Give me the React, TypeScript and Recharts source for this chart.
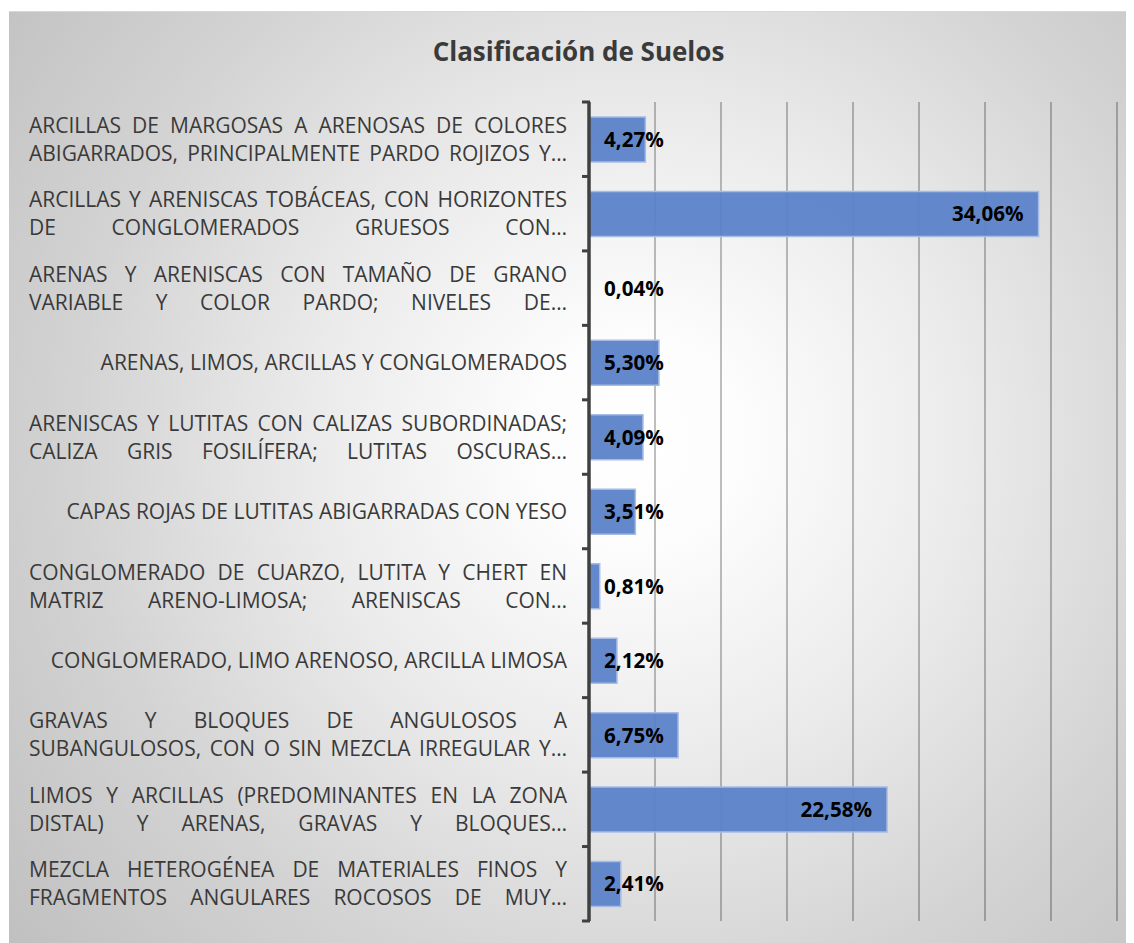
import React from 'react';
import { BarChart, Bar, XAxis, YAxis, CartesianGrid, LabelList } from 'recharts';

const title = 'Clasificación de Suelos';

const categoryLines: string[][] = [
  ['ARCILLAS DE MARGOSAS A ARENOSAS DE COLORES', 'ABIGARRADOS, PRINCIPALMENTE PARDO ROJIZOS Y…'],
  ['ARCILLAS Y ARENISCAS TOBÁCEAS, CON HORIZONTES', 'DE CONGLOMERADOS GRUESOS CON…'],
  ['ARENAS Y ARENISCAS CON TAMAÑO DE GRANO', 'VARIABLE Y COLOR PARDO; NIVELES DE…'],
  ['ARENAS, LIMOS, ARCILLAS Y CONGLOMERADOS'],
  ['ARENISCAS Y LUTITAS CON CALIZAS SUBORDINADAS;', 'CALIZA GRIS FOSILÍFERA; LUTITAS OSCURAS…'],
  ['CAPAS ROJAS DE LUTITAS ABIGARRADAS CON YESO'],
  ['CONGLOMERADO DE CUARZO, LUTITA Y CHERT EN', 'MATRIZ ARENO-LIMOSA; ARENISCAS CON…'],
  ['CONGLOMERADO, LIMO ARENOSO, ARCILLA LIMOSA'],
  ['GRAVAS Y BLOQUES DE ANGULOSOS A', 'SUBANGULOSOS, CON O SIN MEZCLA IRREGULAR Y…'],
  ['LIMOS Y ARCILLAS (PREDOMINANTES EN LA ZONA', 'DISTAL) Y ARENAS, GRAVAS Y BLOQUES…'],
  ['MEZCLA HETEROGÉNEA DE MATERIALES FINOS Y', 'FRAGMENTOS ANGULARES ROCOSOS DE MUY…'],
];

const categories: string[] = categoryLines.map((l) => l.join(' '));
const values: number[] = [4.27, 34.06, 0.04, 5.3, 4.09, 3.51, 0.81, 2.12, 6.75, 22.58, 2.41];
const xTicks: number[] = [0, 5, 10, 15, 20, 25, 30, 35, 40];

const data = categories.map((name, i) => ({ name, value: values[i] }));

const FONT = '"Open Sans", sans-serif';
const CAT_SIZE = 21;
const LABEL_SIZE = 20.6;
const LINE_GAP = 28;
const TEXT_COLOR = '#3a3a3a';
const AXIS_COLOR = '#404040';

let ctx: CanvasRenderingContext2D | null = null;
function measure(text: string, font: string): number {
  if (!ctx) {
    const c = document.createElement('canvas');
    ctx = c.getContext('2d');
  }
  if (!ctx) return text.length * 10;
  ctx.font = font;
  return ctx.measureText(text).width;
}

const fmt = (v: number) => v.toFixed(2).replace('.', ',') + '%';

const EmptyTick = () => <g />;

const CategoryTick = (props: any) => {
  const { x, y, payload, index } = props;
  const idx = categories.indexOf(payload?.value);
  const lines = categoryLines[idx >= 0 ? idx : index] || [];
  const half = payload?.offset ?? 0;
  const right = x - 22;
  const left = x - 560;
  const font = `${CAT_SIZE}px ${FONT}`;
  const n = lines.length;
  const isLast = index === categories.length - 1 || idx === categories.length - 1;
  return (
    <g>
      <line x1={x - 7} x2={x + 1} y1={y - half} y2={y - half} stroke={AXIS_COLOR} strokeWidth={3} />
      {isLast && (
        <line x1={x - 7} x2={x + 1} y1={y + half} y2={y + half} stroke={AXIS_COLOR} strokeWidth={3} />
      )}
      {lines.map((line, li) => {
        const cy = y + (li - (n - 1) / 2) * LINE_GAP;
        const base = cy + CAT_SIZE * 0.36;
        if (n === 1) {
          return (
            <text key={li} x={right} y={base} textAnchor="end" fontFamily={FONT} fontSize={CAT_SIZE} fill={TEXT_COLOR}>
              {line}
            </text>
          );
        }
        const words = line.split(' ');
        const widths = words.map((w) => measure(w, font));
        const total = widths.reduce((a, b) => a + b, 0);
        const gap = words.length > 1 ? (right - left - total) / (words.length - 1) : 0;
        let cur = left;
        const xs = widths.map((w) => {
          const p = cur;
          cur += w + gap;
          return p;
        });
        return (
          <text key={li} y={base} fontFamily={FONT} fontSize={CAT_SIZE} fill={TEXT_COLOR}>
            {words.map((w, wi) => (
              <tspan key={wi} x={xs[wi]} y={base}>
                {w}
              </tspan>
            ))}
          </text>
        );
      })}
    </g>
  );
};

const BarLabel = (props: any) => {
  const { x, y, width, height, value } = props;
  const text = fmt(Number(value));
  const tw = measure(text, `bold ${LABEL_SIZE}px ${FONT}`);
  const fits = width > tw + 30;
  const tx = fits ? x + width - 15 : x + 15;
  return (
    <text
      x={tx}
      y={y + height / 2 + LABEL_SIZE * 0.36}
      textAnchor={fits ? 'end' : 'start'}
      fontFamily={FONT}
      fontWeight="bold"
      fontSize={LABEL_SIZE}
      fill="#000000"
    >
      {text}
    </text>
  );
};

export default function App() {
  return (
    <div
      style={{
        position: 'relative',
        width: 1125,
        height: 932,
        marginTop: 3,
        marginLeft: 1,
        background:
          'radial-gradient(circle at 56% 46%, #ffffff 0%, #fcfcfc 14%, #ebebeb 40%, #d3d3d3 70%, #c0c0c0 100%)',
        borderTop: '1px solid #d8d8d8',
        boxSizing: 'border-box',
      }}
    >
      <div
        style={{
          position: 'absolute',
          top: 21,
          left: 7,
          width: '100%',
          textAlign: 'center',
          fontFamily: FONT,
          fontWeight: 700,
          fontSize: 26,
          color: TEXT_COLOR,
          lineHeight: '36px',
        }}
      >
        {title}
      </div>
      <BarChart
        width={1125}
        height={931}
        data={data}
        layout="vertical"
        margin={{ top: 90, right: 17, bottom: 21, left: 0 }}
        barSize={45}
      >
        <CartesianGrid horizontal={false} vertical={true} stroke="rgba(0,0,0,0.25)" strokeWidth={2} />
        <XAxis
          type="number"
          domain={[0, 40]}
          ticks={xTicks}
          interval={0}
          tick={<EmptyTick />}
          axisLine={false}
          tickLine={false}
          height={1}
        />
        <YAxis
          type="category"
          dataKey="name"
          width={580}
          interval={0}
          tickSize={0}
          tickMargin={0}
          tickLine={false}
          axisLine={{ stroke: AXIS_COLOR, strokeWidth: 3.5 }}
          tick={<CategoryTick />}
        />
        <Bar
          dataKey="value"
          fill="#5B83C9"
          fillOpacity={0.95}
          stroke="#a7bce4"
          strokeWidth={1.5}
          isAnimationActive={false}
        >
          <LabelList dataKey="value" content={<BarLabel />} />
        </Bar>
      </BarChart>
    </div>
  );
}
